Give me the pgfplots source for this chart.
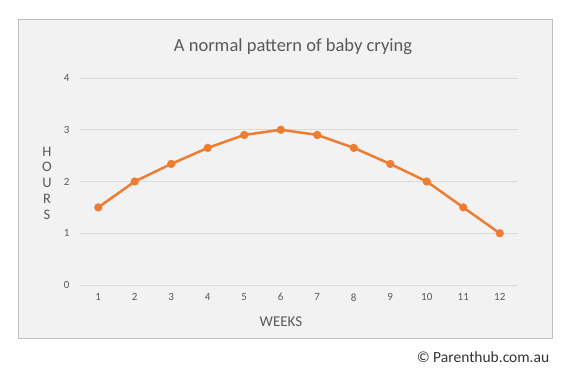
\documentclass[border=0pt]{standalone}
\usepackage{pgfplots}
\pgfplotsset{compat=1.18}
\usepackage{fontspec}
\setmainfont{Carlito}
\definecolor{bgc}{HTML}{F2F2F2}
\definecolor{boxc}{HTML}{BFBFBF}
\definecolor{gridc}{HTML}{D9D9D9}
\definecolor{tickc}{HTML}{595959}
\definecolor{linec}{HTML}{ED7D31}
\begin{document}
\begin{tikzpicture}
\fill[white] (0pt,0pt) rectangle (577pt,-375pt);
\filldraw[fill=bgc, draw=boxc, line width=1pt] (18pt,-19pt) rectangle (552pt,-338pt);
\begin{axis}[
  at={(80pt,-285pt)}, anchor=south west,
  scale only axis, width=438pt, height=207pt,
  xmin=0.5, xmax=12.5, ymin=0, ymax=4,
  xtick={1,...,12}, ytick={0,...,4},
  ymajorgrids, grid style={color=gridc, line width=0.75pt},
  axis line style={draw=none},
  major tick length=0pt,
  tick label style={font=\fontsize{11}{13}\selectfont, text=tickc},
  xticklabel style={yshift=-5pt},
  yticklabel style={xshift=-7pt},
  /pgf/number format/assume math mode=true,
  clip=false,
]
\addplot[color=linec, line width=2.5pt, mark=*, mark size=2.8pt, mark options={solid, fill=linec, draw=none}]
  coordinates {(1,1.5) (2,2.0) (3,2.34) (4,2.65) (5,2.9) (6,3.0) (7,2.9) (8,2.65) (9,2.34) (10,2.0) (11,1.5) (12,1.0)};
\end{axis}
\node[text=tickc, font=\fontsize{18.5}{21}\selectfont] at (293pt,-47pt) {A normal pattern of baby crying};
\node[text=tickc, font=\fontsize{15}{17}\selectfont] at (281pt,-322pt) {WEEKS};
\node[text=tickc, font=\fontsize{14.5}{15.8}\selectfont, align=center] at (47pt,-183pt) {H\\O\\U\\R\\S};
\node[text=black!80, font=\fontsize{15.5}{17}\selectfont] at (483pt,-357pt) {© Parenthub.com.au};
\end{tikzpicture}
\end{document}
